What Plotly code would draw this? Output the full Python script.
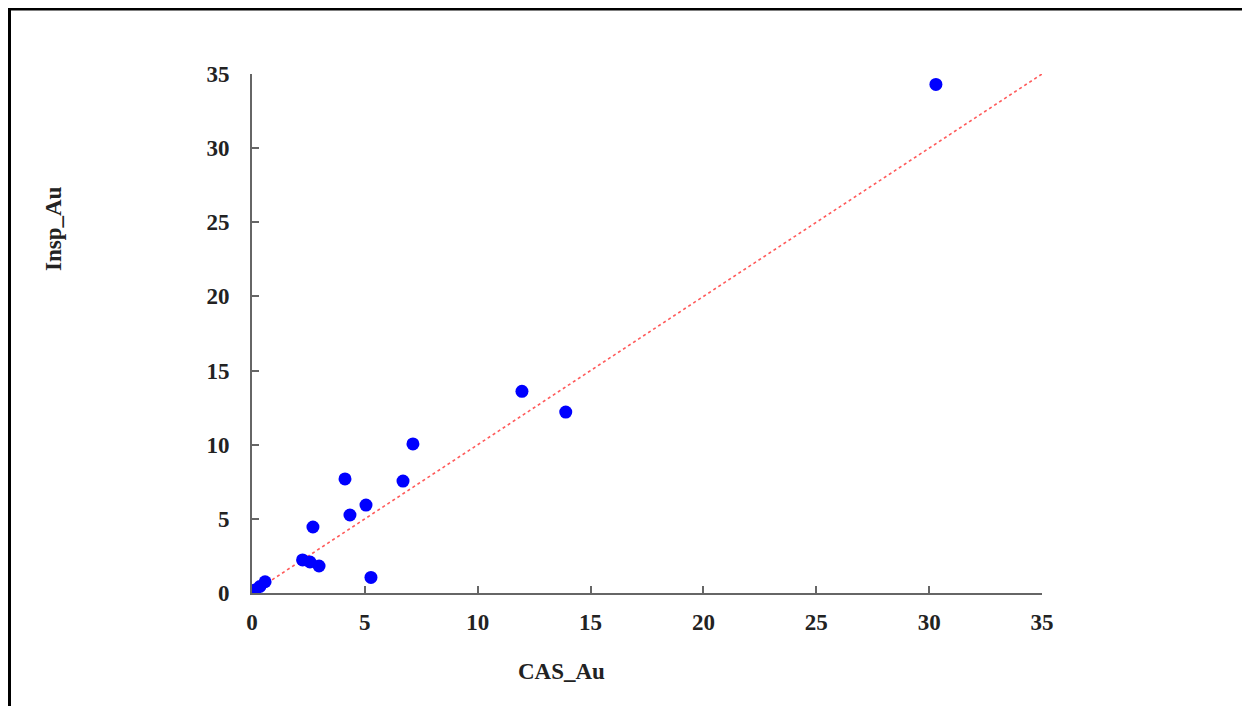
import plotly.graph_objects as go

cas_au = [30.3, 11.96, 13.9, 7.13, 4.12, 6.69, 5.05, 4.34, 2.70, 2.24, 2.57, 2.97, 5.27, 0.58, 0.35, 0.13, 0.03, 0.08]
insp_au = [34.3, 13.6, 12.2, 10.05, 7.69, 7.55, 5.93, 5.26, 4.45, 2.23, 2.09, 1.82, 1.05, 0.76, 0.44, 0.20, 0.02, 0.08]
ref_line = [0, 35]
tick_vals = [0, 5, 10, 15, 20, 25, 30, 35]

OFF = 8  # page body margin
W, H = 1250 - OFF, 706 - OFF
L, R, T, B = 252 - OFF, 208, 74 - OFF, 113
pw, ph = W - L - R, H - T - B

def px(x):
    return (x - OFF - L) / pw

def py(y):
    return (H - B - (y - OFF)) / ph

fig = go.Figure()
fig.add_trace(go.Scatter(x=ref_line, y=ref_line, mode="lines",
                         line=dict(color="#ff5a5a", width=1.6, dash="dot"),
                         hoverinfo="skip", showlegend=False))
fig.add_trace(go.Scatter(x=cas_au, y=insp_au, mode="markers",
                         marker=dict(color="#0000ff", size=13, line=dict(width=0)),
                         showlegend=False))

font = dict(family="Liberation Serif", size=23, color="#222222", weight="bold")
axis_common = dict(range=[0, 35], tickvals=tick_vals, ticks="inside", ticklen=7,
                   tickwidth=2, tickcolor="#666666", showline=True, linecolor="#666666",
                   linewidth=2, showgrid=False, zeroline=False, tickfont=font)
fig.update_xaxes(**axis_common, ticklabelstandoff=7)
fig.update_yaxes(**axis_common, ticklabelstandoff=16)

fig.update_layout(
    width=W, height=H, margin=dict(l=L, r=R, t=T, b=B),
    plot_bgcolor="white", paper_bgcolor="white", font=font,
    annotations=[
        dict(text="CAS_Au", x=px(561), y=py(671), xref="paper", yref="paper",
             showarrow=False, font=font, xanchor="center", yanchor="middle"),
        dict(text="Insp_Au", x=px(53), y=py(229), xref="paper", yref="paper",
             showarrow=False, font=font, textangle=-90, xanchor="center", yanchor="middle"),
    ],
    shapes=[
        dict(type="line", xref="paper", yref="paper", x0=px(9.5), x1=px(9.5), y0=py(8), y1=py(720),
             line=dict(color="black", width=3)),
        dict(type="line", xref="paper", yref="paper", x0=px(8), x1=px(1265), y0=py(9), y1=py(9),
             line=dict(color="black", width=3)),
    ],
)

fig.write_html("out.html")
